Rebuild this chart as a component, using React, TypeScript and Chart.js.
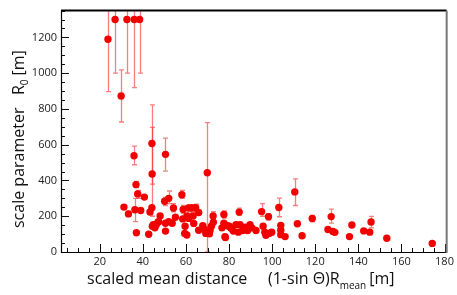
import React, { useEffect, useRef } from 'react';
import { Chart, registerables } from 'chart.js';
Chart.register(...registerables);

// scaled mean distance (1-sin Θ)R_mean [m]
const distX = [
  23.8, 27.1, 29.9, 32.6, 36.0, 38.5, 35.9, 44.2, 44.3, 50.5, 69.9,
  31.2, 33.3, 36.8, 37.6, 36.3, 39.0, 40.7, 37.0, 42.7, 43.3, 44.2, 44.8, 45.6, 47.0, 44.4,
  52.0, 50.1, 54.2, 58.1, 48.0, 55.1, 58.7, 61.2, 62.8, 64.5, 65.9, 58.5, 60.5, 61.3, 63.3,
  46.2, 47.3, 50.5, 53.6, 52.0, 50.5, 59.6, 63.6, 59.4, 60.4, 65.9, 67.8, 68.7, 70.1, 69.2,
  72.6, 71.8, 72.7, 71.2, 77.6, 77.6, 76.7, 78.1, 79.3, 80.9, 82.0, 84.7, 85.1, 84.3, 87.5,
  86.3, 89.7, 90.6, 88.6, 95.1, 95.8, 96.6, 98.3, 98.6, 99.8, 103.1, 104.0, 104.0, 104.0, 106.0,
  110.5, 111.7, 113.9, 118.6, 125.9, 127.4, 128.2, 129.1, 135.9, 137.0, 142.5, 145.3, 145.9,
  153.2, 174.3, 92.5, 97.1, 78.3, 70.9, 83.2, 80.1,
];
// scale parameter R0 [m]
const r0 = [
  1190, 1300, 872, 1300, 1300, 1300, 538, 607, 436, 546, 443,
  251, 213, 377, 325, 236, 232, 307, 108, 99, 224, 248, 153, 135, 167, 144,
  300, 284, 246, 320, 201, 194, 238, 247, 247, 248, 221, 185, 201, 188, 201,
  153, 169, 161, 161, 170, 117, 144, 160, 104, 95, 122, 147, 126, 111, 104,
  201, 144, 167, 122, 210, 161, 135, 85, 147, 133, 117, 223, 153, 111, 138,
  120, 153, 135, 120, 226, 144, 111, 197, 104, 111, 249, 149, 122, 97, 86,
  336, 158, 91, 187, 126, 198, 115, 110, 86, 151, 118, 111, 168,
  77, 48, 120, 94, 81, 102, 153, 144,
];
// lower / upper ends of the error bars
const r0Low = [
  897, 1000, 727, 1000, 919, 1000, 488, 380, 200, 452, 0,
  251, 200, 360, 300, 170, 232, 307, 108, 99, 224, 248, 153, 135, 167, 144,
  270, 260, 225, 300, 201, 194, 215, 225, 225, 228, 221, 185, 201, 188, 201,
  153, 169, 161, 161, 170, 117, 144, 160, 104, 95, 122, 147, 126, 111, 104,
  180, 144, 167, 122, 190, 161, 135, 85, 147, 133, 117, 205, 153, 111, 138,
  120, 153, 135, 120, 200, 144, 111, 180, 104, 111, 197, 149, 122, 97, 86,
  260, 158, 91, 170, 126, 162, 115, 110, 86, 151, 118, 111, 135,
  77, 48, 120, 94, 81, 102, 153, 144,
];
const r0High = [
  1600, 1600, 1019, 1600, 1600, 1600, 592, 823, 697, 637, 723,
  251, 228, 395, 345, 300, 232, 307, 108, 99, 224, 248, 153, 135, 167, 144,
  341, 305, 270, 345, 201, 194, 260, 265, 265, 268, 221, 185, 201, 188, 201,
  153, 169, 161, 161, 170, 117, 144, 160, 104, 95, 122, 147, 126, 111, 104,
  225, 144, 167, 122, 230, 161, 135, 85, 147, 133, 117, 245, 153, 111, 138,
  120, 153, 135, 120, 270, 144, 111, 215, 104, 111, 301, 149, 122, 97, 86,
  409, 158, 91, 205, 126, 240, 115, 110, 86, 151, 118, 111, 199,
  77, 48, 120, 94, 81, 102, 153, 144,
];

const xTickValues = [20, 40, 60, 80, 100, 120, 140, 160, 180];
const yTickValues = [0, 200, 400, 600, 800, 1000, 1200];
const xMinorStep = 5;
const yMinorStep = 50;

const FONT = '"Open Sans", "DejaVu Sans", sans-serif';

const errorBarPlugin = {
  id: 'errorBars',
  beforeDatasetsDraw(chart: any) {
    const { ctx, chartArea: a, scales } = chart;
    const xs = scales.x, ys = scales.y;
    ctx.save();
    ctx.beginPath();
    ctx.rect(a.left, a.top, a.right - a.left, a.bottom - a.top);
    ctx.clip();
    ctx.strokeStyle = 'rgba(245,40,40,0.6)';
    ctx.lineWidth = 1.3;
    for (let i = 0; i < distX.length; i++) {
      if (r0Low[i] === r0High[i]) continue;
      const px = Math.round(xs.getPixelForValue(distX[i])) + 0.5;
      const pLo = ys.getPixelForValue(r0Low[i]);
      const pHi = ys.getPixelForValue(r0High[i]);
      ctx.beginPath();
      ctx.moveTo(px, pLo);
      ctx.lineTo(px, pHi);
      ctx.moveTo(px - 2.5, pLo);
      ctx.lineTo(px + 2.5, pLo);
      ctx.moveTo(px - 2.5, pHi);
      ctx.lineTo(px + 2.5, pHi);
      ctx.stroke();
    }
    ctx.restore();
  },
};

const framePlugin = {
  id: 'frame',
  afterDraw(chart: any) {
    const { ctx, chartArea: a, scales } = chart;
    const xs = scales.x, ys = scales.y;
    ctx.save();
    // ticks
    ctx.strokeStyle = '#111';
    ctx.lineWidth = 1;
    ctx.beginPath();
    for (let v = 0; v <= ys.max; v += yMinorStep) {
      const py = Math.round(ys.getPixelForValue(v)) + 0.5;
      const len = v % 200 === 0 ? 8 : 4;
      ctx.moveTo(a.left, py);
      ctx.lineTo(a.left + len, py);
    }
    for (let v = Math.ceil(xs.min / xMinorStep) * xMinorStep; v <= xs.max; v += xMinorStep) {
      const px = Math.round(xs.getPixelForValue(v)) + 0.5;
      const len = v % 20 === 0 ? 8 : 4;
      ctx.moveTo(px, a.bottom);
      ctx.lineTo(px, a.bottom - len);
    }
    ctx.stroke();
    // axes
    ctx.lineWidth = 1.2;
    ctx.strokeStyle = '#000';
    ctx.beginPath();
    ctx.moveTo(a.left + 0.5, a.top);
    ctx.lineTo(a.left + 0.5, a.bottom + 0.5);
    ctx.lineTo(a.right, a.bottom + 0.5);
    ctx.stroke();
    ctx.lineWidth = 2;
    ctx.beginPath();
    ctx.moveTo(a.left, a.top);
    ctx.lineTo(a.right, a.top);
    ctx.stroke();
    ctx.strokeStyle = '#777';
    ctx.beginPath();
    ctx.moveTo(a.right, a.top);
    ctx.lineTo(a.right, a.bottom + 1);
    ctx.stroke();

    // axis titles
    ctx.fillStyle = '#111';
    ctx.textBaseline = 'alphabetic';
    ctx.textAlign = 'left';
    ctx.font = `16px ${FONT}`;
    let x = 87;
    const base = 284;
    ctx.fillText('scaled mean distance', x, base);
    x = 268;
    const t1 = '(1-sin \u0398)R';
    ctx.fillText(t1, x, base);
    x += ctx.measureText(t1).width;
    ctx.font = `10px ${FONT}`;
    ctx.fillText('mean', x, base + 5);
    x += ctx.measureText('mean').width + 3;
    ctx.font = `16px ${FONT}`;
    ctx.fillText('[m]', x, base);

    ctx.translate(24, 228);
    ctx.rotate(-Math.PI / 2);
    let yx = 0;
    const s1 = 'scale parameter   R';
    ctx.fillText(s1, yx, 0);
    yx += ctx.measureText(s1).width;
    ctx.font = `10px ${FONT}`;
    ctx.fillText('0', yx, 4);
    yx += ctx.measureText('0').width + 4;
    ctx.font = `16px ${FONT}`;
    ctx.fillText('[m]', yx, 0);
    ctx.restore();
  },
};

export default function App() {
  const ref = useRef<HTMLCanvasElement | null>(null);
  useEffect(() => {
    document.body.style.margin = '0';
    const canvas = ref.current!;
    const chart = new Chart(canvas, {
      type: 'scatter',
      data: {
        datasets: [
          {
            data: distX.map((x, i) => ({ x, y: r0[i] })),
            backgroundColor: '#f20000',
            borderWidth: 0,
            pointRadius: 3.7,
          },
        ],
      },
      options: {
        animation: false,
        responsive: true,
        maintainAspectRatio: false,
        layout: { padding: { top: 1, right: 9, left: 0, bottom: 0 } },
        plugins: { legend: { display: false }, tooltip: { enabled: false } },
        scales: {
          x: {
            type: 'linear',
            min: 2,
            max: 181,
            grid: { display: false, drawTicks: false },
            border: { display: false },
            ticks: {
              color: '#222', font: { family: FONT, size: 11 }, padding: 3, maxRotation: 0, autoSkip: false,
              callback: (v: any) => String(v),
            },
            afterBuildTicks: (s: any) => { s.ticks = xTickValues.map((v) => ({ value: v })); },
            afterFit: (s: any) => { s.height = 43; },
          },
          y: {
            type: 'linear',
            min: 0,
            max: 1350,
            grid: { display: false, drawTicks: false },
            border: { display: false },
            ticks: {
              color: '#222', font: { family: FONT, size: 11 }, padding: 4, autoSkip: false,
              callback: (v: any) => String(v),
            },
            afterBuildTicks: (s: any) => { s.ticks = yTickValues.map((v) => ({ value: v })); },
            afterFit: (s: any) => { s.width = 61; },
          },
        },
      },
      plugins: [errorBarPlugin, framePlugin],
    });
    return () => chart.destroy();
  }, []);
  return (
    <div style={{ width: 457, height: 295, position: 'relative' }}>
      <canvas ref={ref} />
    </div>
  );
}
